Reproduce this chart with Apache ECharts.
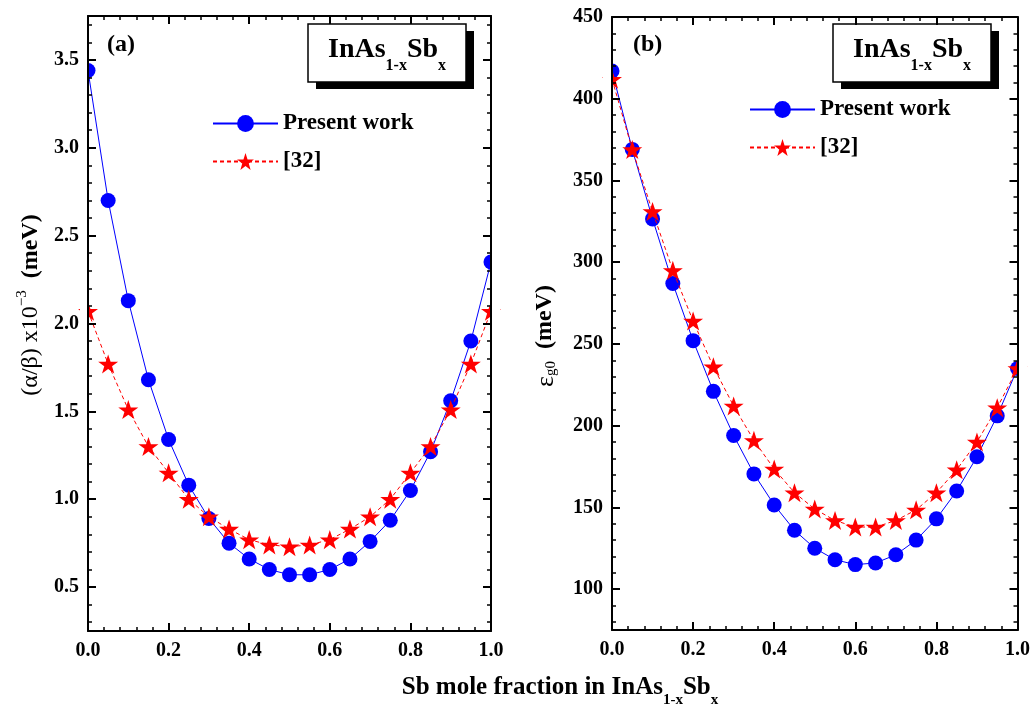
<!DOCTYPE html>
<html>
<head>
<meta charset="utf-8">
<script src="https://cdn.jsdelivr.net/npm/echarts@6/dist/echarts.min.js"></script>
<style>
  html, body { margin: 0; padding: 0; background: #fff; }
  #chart { width: 1033px; height: 706px; }
</style>
</head>
<body>
<div id="chart"></div>
<script>
// Sb mole fraction x in InAs(1-x)Sb(x)
const xFrac = [0.00, 0.05, 0.10, 0.15, 0.20, 0.25, 0.30, 0.35, 0.40, 0.45, 0.50,
               0.55, 0.60, 0.65, 0.70, 0.75, 0.80, 0.85, 0.90, 0.95, 1.00];

// Panel (a): (alpha/beta) x 10^-3 (meV)
const ratioPresent = [3.44, 2.70, 2.13, 1.68, 1.34, 1.08, 0.89, 0.75, 0.66, 0.60, 0.57,
                      0.57, 0.60, 0.66, 0.76, 0.88, 1.05, 1.27, 1.56, 1.90, 2.35];
const ratioRef32   = [2.07, 1.77, 1.51, 1.30, 1.15, 1.00, 0.90, 0.83, 0.77, 0.74, 0.73,
                      0.74, 0.77, 0.83, 0.90, 1.00, 1.15, 1.30, 1.51, 1.77, 2.07];

// Panel (b): epsilon_g0 (meV)
const egPresent = [417, 369, 326.5, 287, 252, 221, 194, 170.5, 151.5, 136, 125,
                   118, 115, 116, 121, 130, 143, 160, 181, 206, 235];
const egRef32   = [412, 369, 331, 295, 264, 236, 212, 191, 173.5, 159, 149,
                   142, 138, 138, 142, 148.5, 159, 173, 190, 211, 235];

// Axis tick values
const ratioMajorTicks = [0.5, 1.0, 1.5, 2.0, 2.5, 3.0, 3.5];
const ratioMinorTicks = [0.3, 0.4, 0.6, 0.7, 0.8, 0.9, 1.1, 1.2, 1.3, 1.4, 1.6, 1.7, 1.8, 1.9,
                         2.1, 2.2, 2.3, 2.4, 2.6, 2.7, 2.8, 2.9, 3.1, 3.2, 3.3, 3.4, 3.6, 3.7];
const egMajorTicks = [100, 150, 200, 250, 300, 350, 400, 450];
const egMinorTicks = [80, 90, 110, 120, 130, 140, 160, 170, 180, 190, 210, 220, 230, 240,
                      260, 270, 280, 290, 310, 320, 330, 340, 360, 370, 380, 390, 410, 420, 430, 440];

const seriesNames = ['Present work', '[32]'];

const SERIF = '"Liberation Serif", "Times New Roman", serif';
const STAR = 'path://M50,0 L61.8,35.1 L98.1,35.1 L68.7,56.8 L79.4,91.5 L50,70 L20.6,91.5 L31.3,56.8 L1.9,35.1 L38.2,35.1 Z';

const labelFont = { fontFamily: SERIF, fontWeight: 'bold', fontSize: 20, color: '#000' };
const blackLine = { color: '#000', width: 2 };

function xAxesFor(gi) {
  const base = {
    type: 'value', gridIndex: gi, min: 0, max: 1, interval: 0.2, z: 10,
    axisLine: { show: true, onZero: false, lineStyle: blackLine },
    axisTick: { inside: true, length: 8, lineStyle: blackLine },
    minorTick: { show: true, splitNumber: 5, length: 4, lineStyle: { color: '#000', width: 1.5 } },
    splitLine: { show: false }, minorSplitLine: { show: false }
  };
  return [
    Object.assign({}, base, {
      position: 'bottom',
      axisLabel: Object.assign({ margin: 10, formatter: v => v.toFixed(1) }, labelFont)
    }),
    Object.assign({}, base, { position: 'top', axisLabel: { show: false } })
  ];
}

function yAxesFor(gi, min, max, majors, minors, fmt) {
  const base = { type: 'value', gridIndex: gi, min: min, max: max, z: 10, splitLine: { show: false } };
  const majorTick = { inside: true, length: 8, customValues: majors, lineStyle: blackLine };
  const minorTick = { inside: true, length: 4, customValues: minors, lineStyle: { color: '#000', width: 1.5 } };
  return [
    Object.assign({}, base, {
      position: 'left',
      axisLine: { show: true, onZero: false, lineStyle: blackLine },
      axisTick: majorTick,
      axisLabel: Object.assign({ customValues: majors, margin: 9, formatter: fmt }, labelFont)
    }),
    Object.assign({}, base, {
      position: 'left', axisLine: { show: false, onZero: false },
      axisTick: minorTick, axisLabel: { show: false }
    }),
    Object.assign({}, base, {
      position: 'right',
      axisLine: { show: true, onZero: false, lineStyle: blackLine },
      axisTick: majorTick, axisLabel: { show: false }
    }),
    Object.assign({}, base, {
      position: 'right', axisLine: { show: false, onZero: false },
      axisTick: minorTick, axisLabel: { show: false }
    })
  ];
}

function pairs(xs, ys) { return xs.map((x, i) => [x, ys[i]]); }

function presentSeries(xi, yi, values) {
  return {
    type: 'line', name: seriesNames[0], xAxisIndex: xi, yAxisIndex: yi,
    data: pairs(xFrac, values), symbol: 'circle', symbolSize: 15,
    itemStyle: { color: '#0000ff' }, lineStyle: { color: '#0000ff', width: 1 },
    z: 2, emphasis: { disabled: true }
  };
}
function refSeries(xi, yi, values) {
  return {
    type: 'line', name: seriesNames[1], xAxisIndex: xi, yAxisIndex: yi,
    data: pairs(xFrac, values), symbol: STAR, symbolSize: 20, symbolKeepAspect: true,
    itemStyle: { color: '#ff0000' }, lineStyle: { color: '#ff0000', width: 1, type: [4, 3] },
    z: 3, emphasis: { disabled: true }
  };
}

function legendAt(left, top) {
  return {
    left: left, top: top, orient: 'vertical', padding: 0,
    itemWidth: 65, itemHeight: 21, itemGap: 15, selectedMode: false,
    data: seriesNames,
    textStyle: { fontFamily: SERIF, fontWeight: 'bold', fontSize: 23, color: '#000' }
  };
}

// Framed compound label with a drop shadow
function compoundBox(x, y) {
  return [
    { type: 'rect', z: 6, shape: { x: x + 8, y: y + 7, width: 158, height: 58 }, style: { fill: '#000' } },
    { type: 'rect', z: 7, shape: { x: x, y: y, width: 158, height: 58 },
      style: { fill: '#fff', stroke: '#000', lineWidth: 1.5 } },
    { type: 'text', z: 8, x: x + 20, y: y + 36,
      style: {
        text: '{m|InAs}{s|1-x}{m|Sb}{s|x}',
        verticalAlign: 'middle', align: 'left',
        rich: {
          m: { fontFamily: SERIF, fontWeight: 'bold', fontSize: 28, lineHeight: 28,
               padding: [0, 0, 10, 0], verticalAlign: 'bottom', fill: '#000' },
          s: { fontFamily: SERIF, fontWeight: 'bold', fontSize: 16, lineHeight: 16,
               verticalAlign: 'bottom', fill: '#000' }
        }
      } }
  ];
}

// White strips just outside the plot frames so the edge markers appear cut by the frame
function edgeMask(x, top, h) {
  return { type: 'rect', z: 5, shape: { x: x, y: top, width: 8, height: h }, style: { fill: '#fff' } };
}

const chart = echarts.init(document.getElementById('chart'), null, { renderer: 'canvas' });

chart.setOption({
  animation: false,
  backgroundColor: '#fff',
  grid: [
    { left: 88, top: 16, width: 403, height: 615 },
    { left: 612, top: 17, width: 406, height: 613 }
  ],
  xAxis: xAxesFor(0).concat(xAxesFor(1)),
  yAxis: yAxesFor(0, 0.25, 3.75, ratioMajorTicks, ratioMinorTicks, v => v.toFixed(1))
    .concat(yAxesFor(1, 75, 450, egMajorTicks, egMinorTicks, v => String(v))),
  legend: [legendAt(212, 112), legendAt(749, 98)],
  series: [
    presentSeries(0, 0, ratioPresent),
    refSeries(0, 0, ratioRef32),
    presentSeries(2, 4, egPresent),
    refSeries(2, 4, egRef32)
  ],
  graphic: [
    edgeMask(80, 8, 630), edgeMask(492, 8, 630),
    edgeMask(603, 8, 630), edgeMask(1019, 8, 630),
    { type: 'text', x: 107, y: 45, style: { text: '(a)', font: 'bold 24px ' + SERIF, fill: '#000', verticalAlign: 'middle' } },
    { type: 'text', x: 633, y: 45, style: { text: '(b)', font: 'bold 24px ' + SERIF, fill: '#000', verticalAlign: 'middle' } },
    ...compoundBox(308, 24),
    ...compoundBox(833, 24),
    // y-axis title, panel (a)
    { type: 'text', x: 27, y: 305, rotation: Math.PI / 2,
      style: {
        text: '{r|(α/β) x10}{p|−3}{b|  (meV)}',
        align: 'center', verticalAlign: 'middle',
        rich: {
          r: { fontFamily: SERIF, fontSize: 24, lineHeight: 24, padding: [8, 0, 0, 0], fill: '#000' },
          p: { fontFamily: SERIF, fontSize: 15, lineHeight: 15, verticalAlign: 'top', fill: '#000' },
          b: { fontFamily: SERIF, fontWeight: 'bold', fontSize: 24, lineHeight: 24, padding: [8, 0, 0, 0], fill: '#000' }
        }
      } },
    // y-axis title, panel (b)
    { type: 'text', x: 546, y: 336, rotation: Math.PI / 2,
      style: {
        text: '{r|ε}{s|g0}{b|  (meV)}',
        align: 'center', verticalAlign: 'middle',
        rich: {
          r: { fontFamily: SERIF, fontSize: 26, lineHeight: 26, padding: [0, 0, 8, 0], verticalAlign: 'top', fill: '#000' },
          s: { fontFamily: SERIF, fontSize: 15, lineHeight: 15, verticalAlign: 'bottom', fill: '#000' },
          b: { fontFamily: SERIF, fontWeight: 'bold', fontSize: 24, lineHeight: 24, padding: [0, 0, 8, 0], verticalAlign: 'top', fill: '#000' }
        }
      } },
    // shared x-axis title
    { type: 'text', x: 560, y: 695,
      style: {
        text: '{m|Sb mole fraction in InAs}{s|1-x}{m|Sb}{s|x}',
        align: 'center', verticalAlign: 'middle',
        rich: {
          m: { fontFamily: SERIF, fontWeight: 'bold', fontSize: 25, lineHeight: 25,
               padding: [0, 0, 7, 0], verticalAlign: 'bottom', fill: '#000' },
          s: { fontFamily: SERIF, fontWeight: 'bold', fontSize: 15, lineHeight: 15,
               verticalAlign: 'bottom', fill: '#000' }
        }
      } }
  ]
});
</script>
</body>
</html>
